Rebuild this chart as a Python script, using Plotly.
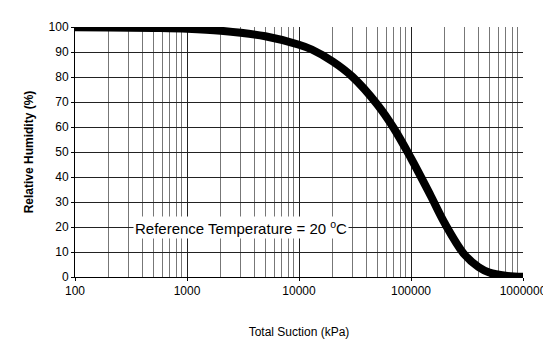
import plotly.graph_objects as go

suction_kpa = [100, 200, 500, 1000, 2000, 5000, 10000, 13000, 20000, 30000,
               50000, 70000, 100000, 150000, 200000, 300000, 400000, 500000,
               700000, 1000000]
relative_humidity = [99.9, 99.8, 99.6, 99.3, 98.5, 96.3, 92.9, 91.0, 86.2, 80.1,
                     69.0, 59.6, 47.5, 32.5, 21.5, 9.0, 4.0, 1.8, 0.5, 0.1]

x_tickvals = [100, 1000, 10000, 100000, 1000000]
x_ticktext = ["100", "1000", "10000", "100000", "1000000"]
y_tickvals = [0, 10, 20, 30, 40, 50, 60, 70, 80, 90, 100]

fig = go.Figure()
fig.add_trace(go.Scatter(x=suction_kpa, y=relative_humidity, mode="lines",
                         line=dict(color="black", width=8, shape="spline"),
                         showlegend=False, hoverinfo="skip"))

fig.add_annotation(text="Reference Temperature = 20 <sup>o</sup>C",
                   xref="paper", yref="y", x=0.37, y=20, showarrow=False,
                   bgcolor="white", font=dict(size=15, color="black",
                                              family="Liberation Sans"))

fig.update_layout(
    width=551, height=341,
    margin=dict(l=67, r=24, t=17, b=71),
    paper_bgcolor="white", plot_bgcolor="white",
    font=dict(family="Liberation Sans", color="black", size=12),
    xaxis=dict(type="log", range=[2, 6], tickvals=x_tickvals, ticktext=x_ticktext,
               showgrid=True, gridcolor="#222", gridwidth=1,
               minor=dict(dtick="D1", showgrid=True, gridcolor="#777", gridwidth=1),
               showline=True, linecolor="black", linewidth=1,
               ticks="outside", ticklen=3, tickcolor="black",
               tickfont=dict(size=12),
               title=dict(text="Total Suction (kPa)", font=dict(size=12), standoff=30),
               zeroline=False),
    yaxis=dict(range=[0, 100], tickvals=y_tickvals,
               showgrid=True, gridcolor="#222", gridwidth=1,
               showline=True, linecolor="black", linewidth=1,
               ticks="outside", ticklen=3, tickcolor="black",
               tickfont=dict(size=12),
               title=dict(text="<b>Relative Humidity (%)</b>", font=dict(size=12), standoff=12),
               zeroline=False),
)

fig.write_html("out.html")
